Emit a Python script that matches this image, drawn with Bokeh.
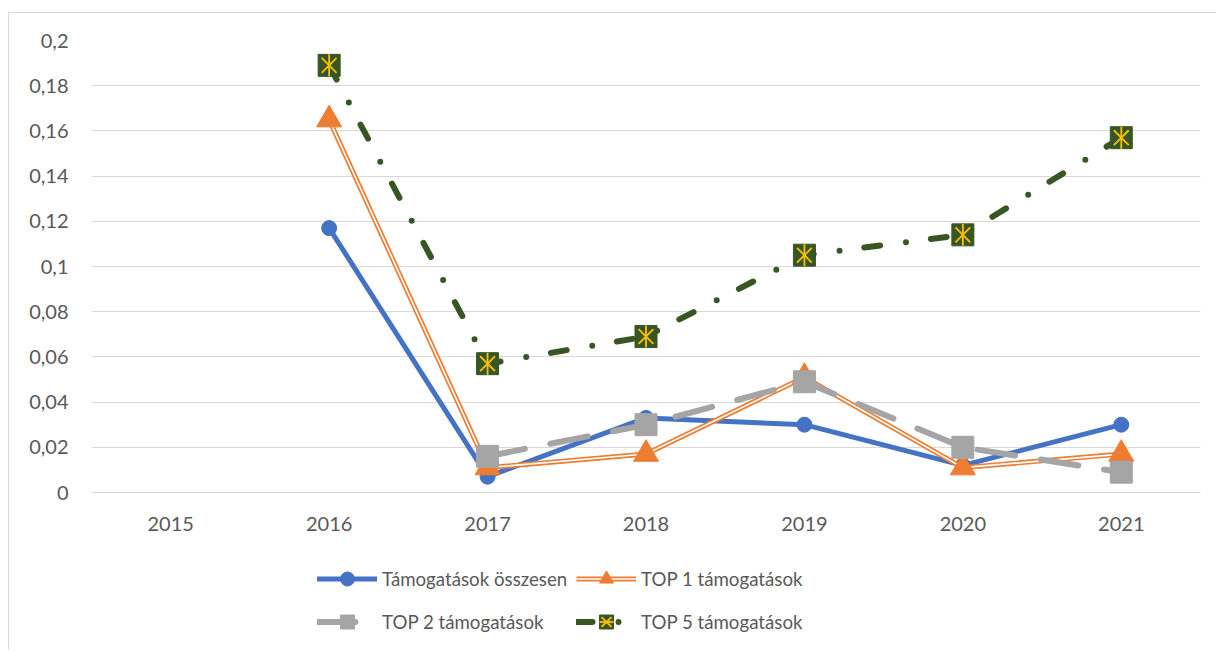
import math
from bokeh.plotting import figure
from bokeh.layouts import column
from bokeh.models import FactorRange, Range1d, FixedTicker, Legend, LegendItem, ColumnDataSource
from bokeh.embed import file_html
from bokeh.resources import INLINE

nan = float("nan")

years = ["2015", "2016", "2017", "2018", "2019", "2020", "2021"]
osszesen = [nan, 0.117, 0.007, 0.033, 0.030, 0.012, 0.030]
top1 = [nan, 0.165, 0.011, 0.017, 0.051, 0.011, 0.017]
top2 = [nan, nan, 0.016, 0.030, 0.049, 0.020, 0.009]
top5 = [nan, 0.189, 0.057, 0.069, 0.105, 0.114, 0.157]

y_ticks = [0, 0.02, 0.04, 0.06, 0.08, 0.1, 0.12, 0.14, 0.16, 0.18, 0.2]
y_tick_labels = ["0", "0,02", "0,04", "0,06", "0,08", "0,1", "0,12", "0,14", "0,16", "0,18", "0,2"]

names = ["Támogatások összesen", "TOP 1 támogatások", "TOP 2 támogatások", "TOP 5 támogatások"]

FONT = "Lato"
TXT = "#595959"
GRID = "#D9D9D9"
BLUE = "#4472C4"
ORANGE = "#ED7D31"
GRAY = "#A5A5A5"
GREEN = "#375623"
YELLOW = "#FFC000"

def draw_series(fig, src):
    r = {}
    r["a"] = [
        fig.line("x", "a", source=src, line_color=BLUE, line_width=5, line_join="round", line_cap="round"),
        fig.scatter("x", "a", source=src, marker="circle", size=15, fill_color=BLUE, line_color=BLUE),
    ]
    r["b"] = [
        fig.line("x", "b", source=src, line_color=ORANGE, line_width=5, line_join="miter"),
        fig.line("x", "b", source=src, line_color="white", line_width=1.6, line_join="miter"),
        fig.scatter("x", "b", source=src, marker="triangle", size=25, fill_color=ORANGE, line_color=ORANGE),
    ]
    r["c"] = [
        fig.line("x", "c", source=src, line_color=GRAY, line_width=6, line_dash="38 26", line_cap="round", line_join="round"),
        fig.scatter("x", "c", source=src, marker="square", size=22, fill_color=GRAY, line_color=GRAY),
    ]
    r["d"] = [
        fig.line("x", "d", source=src, line_color=GREEN, line_width=6, line_dash="16 26 0 25", line_cap="round", line_join="round"),
        fig.scatter("x", "d", source=src, marker="square", size=22, fill_color=GREEN, line_color=GREEN),
        fig.scatter("x", "d", source=src, marker="x", size=21, line_color=YELLOW, line_width=1.8),
        fig.scatter("x", "d", source=src, marker="dash", size=22, angle=math.pi / 2, line_color=YELLOW, line_width=1.8),
    ]
    return r

src = ColumnDataSource(dict(x=years, a=osszesen, b=top1, c=top2, d=top5))

# ---------------- main chart ----------------
p = figure(
    width=1207, height=533,
    x_range=FactorRange(*years, range_padding=0),
    y_range=Range1d(0, 0.2),
    output_backend="svg", toolbar_location=None,
    min_border_left=82, min_border_right=16, min_border_top=27, min_border_bottom=54,
)
p.outline_line_color = None
p.background_fill_color = "white"
p.border_fill_color = "white"

p.xgrid.grid_line_color = None
p.ygrid.grid_line_color = GRID
p.ygrid.grid_line_width = 1
p.yaxis.ticker = FixedTicker(ticks=y_ticks)
p.yaxis.major_label_overrides = {t: l for t, l in zip(y_ticks, y_tick_labels)}

for ax in (p.xaxis[0], p.yaxis[0]):
    ax.major_tick_line_color = None
    ax.minor_tick_line_color = None
    ax.major_label_text_font = FONT
    ax.major_label_text_font_size = "20px"
    ax.major_label_text_color = TXT
p.yaxis.axis_line_color = None
p.xaxis.axis_line_color = GRID
p.yaxis.major_label_standoff = 17
p.xaxis.major_label_standoff = 18

draw_series(p, src)

# ---------------- legend strip (same series, drawn outside its visible range) ----------------
q = figure(
    width=1207, height=104,
    x_range=FactorRange(*years, range_padding=0), y_range=Range1d(1, 2),
    x_axis_type=None, y_axis_type=None,
    output_backend="svg", toolbar_location=None,
    min_border_left=82, min_border_right=16, min_border_top=0, min_border_bottom=0,
)
q.outline_line_color = None
q.grid.visible = False
q.background_fill_color = "white"
q.border_fill_color = "white"
lr = draw_series(q, src)

def make_legend(items, x, y):
    return Legend(items=items, location=(x, y), orientation="vertical",
                  glyph_width=60, glyph_height=35, label_height=35, spacing=8,
                  label_standoff=5, padding=0, margin=0,
                  border_line_color=None, background_fill_alpha=0,
                  label_text_font=FONT, label_text_font_size="18.7px", label_text_color=TXT)

q.add_layout(make_legend([
    LegendItem(label=names[0], renderers=lr["a"]),
    LegendItem(label=names[2], renderers=lr["c"]),
], 226, 11), "center")
q.add_layout(make_legend([
    LegendItem(label=names[1], renderers=lr["b"]),
    LegendItem(label=names[3], renderers=lr["d"]),
], 485, 11), "center")

layout = column(p, q, spacing=0,
                styles={"border-left": "1px solid #D9D9D9", "border-top": "1px solid #D9D9D9",
                        "margin-top": "12px", "margin-left": "8px"})

open("out.html", "w").write(file_html(layout, INLINE))
